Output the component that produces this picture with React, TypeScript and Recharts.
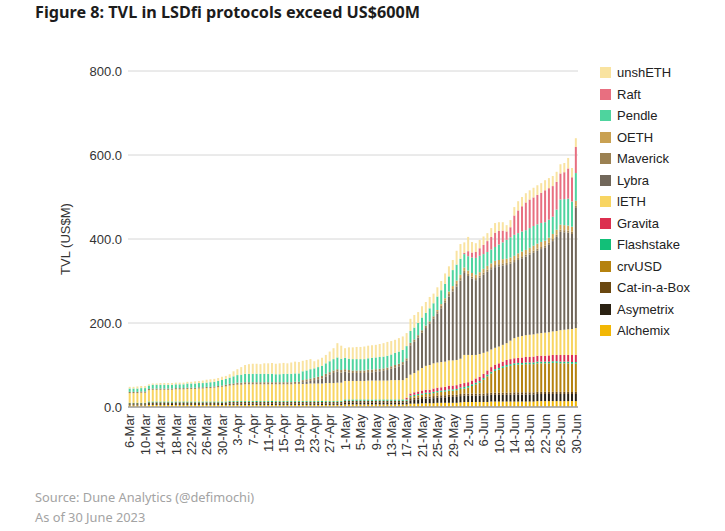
import React from 'react';
import { BarChart, Bar, XAxis, YAxis, CartesianGrid } from 'recharts';

// Daily TVL (US$M) by protocol, 6-Mar to 30-Jun 2023.
// Each array: Mar 6-31 | Apr | May 1-17 | May 18-31 | Jun
const MONTHS: [string, number, number][] = [
  ['Mar', 6, 31],
  ['Apr', 1, 30],
  ['May', 1, 31],
  ['Jun', 1, 30],
];

const dates: string[] = [];
MONTHS.forEach(([m, from, to]) => {
  for (let d = from; d <= to; d++) dates.push(`${d}-${m}`);
});

const alchemix = [
  4, 4, 4, 4, 4, 5, 5, 5, 5, 5, 5, 5, 5, 5, 5, 5, 5, 5, 5, 5, 5, 5, 5, 5, 5, 5,
  5, 5, 5, 5, 5, 5, 5, 5, 5, 5, 5, 5, 5, 5, 5, 5, 5, 5, 5, 5, 5, 5, 5, 5, 5, 5, 5, 5, 5, 5,
  6, 6, 6, 6, 6, 6, 6, 6, 6, 6, 6, 6, 6, 6, 6, 6, 6,
  8, 8, 8, 9, 9, 9, 9, 10, 10, 10, 10, 10, 10, 11,
  12, 12, 12, 12, 12, 12, 12, 13, 13, 13, 13, 13, 13, 13, 13, 13, 13, 13, 13, 14, 14, 14, 14, 14, 14, 14, 14, 14, 14, 14,
];
const asymetrix = [
  2, 2, 2, 2, 2, 2, 2, 2, 2, 2, 2, 2, 2, 2, 2, 2, 2, 2, 2, 2, 2, 2, 2, 2, 2, 2,
  3, 3, 3, 3, 3, 3, 3, 3, 3, 3, 3, 3, 3, 3, 3, 3, 3, 3, 3, 3, 3, 3, 3, 3, 3, 3, 3, 3, 3, 3,
  4, 4, 4, 4, 4, 4, 4, 4, 4, 4, 4, 4, 4, 4, 4, 4, 4,
  8, 9, 10, 10, 11, 11, 12, 12, 13, 13, 14, 14, 14, 15,
  15, 15, 15, 15, 15, 15, 16, 16, 16, 16, 16, 16, 16, 17, 17, 17, 17, 17, 17, 17, 17, 17, 17, 17, 17, 17, 17, 17, 17, 17,
];
const catInABox = [
  3, 3, 3, 3, 3, 4, 4, 4, 4, 4, 4, 4, 4, 4, 4, 4, 4, 4, 4, 4, 4, 4, 4, 4, 4, 4,
  4, 4, 4, 4, 4, 4, 4, 4, 4, 4, 4, 4, 4, 4, 4, 4, 4, 4, 4, 4, 4, 4, 4, 4, 4, 4, 4, 4, 4, 4,
  5, 5, 5, 5, 5, 5, 5, 5, 5, 5, 5, 5, 5, 5, 5, 5, 5,
  5, 5, 5, 5, 5, 5, 5, 5, 5, 5, 5, 5, 5, 5,
  5, 5, 5, 5, 5, 5, 5, 5, 5, 5, 5, 5, 5, 5, 5, 5, 5, 5, 5, 5, 5, 5, 5, 5, 5, 5, 5, 5, 5, 5,
];
const crvUSD = [
  0, 0, 0, 0, 0, 0, 0, 0, 0, 0, 0, 0, 0, 0, 0, 0, 0, 0, 0, 0, 0, 0, 0, 0, 0, 0,
  0, 0, 0, 0, 0, 0, 0, 0, 0, 0, 0, 0, 0, 0, 0, 0, 0, 0, 0, 0, 0, 0, 0, 0, 0, 0, 0, 0, 0, 0,
  0, 0, 0, 0, 0, 0, 0, 0, 0, 0, 0, 0, 0, 0, 0, 0, 0,
  3, 4, 5, 5, 6, 6, 7, 8, 8, 9, 10, 10, 11, 12,
  12, 14, 18, 22, 26, 33, 40, 46, 52, 55, 59, 62, 64, 65, 66, 66, 67, 67, 67, 68, 68, 68, 68, 69, 69, 68, 68, 68, 67, 67,
];
const flashstake = [
  1, 1, 1, 1, 1, 2, 2, 2, 2, 2, 2, 2, 2, 2, 2, 2, 2, 2, 2, 2, 2, 2, 2, 2, 2, 2,
  2, 2, 2, 2, 2, 2, 2, 2, 2, 2, 2, 2, 2, 2, 2, 2, 2, 2, 2, 2, 2, 2, 2, 2, 2, 2, 2, 2, 2, 2,
  3, 3, 3, 3, 3, 3, 3, 3, 3, 3, 3, 3, 3, 3, 3, 3, 3,
  3, 3, 3, 3, 3, 3, 3, 3, 3, 3, 3, 3, 3, 3,
  4, 4, 4, 4, 4, 4, 4, 4, 4, 4, 4, 4, 4, 4, 4, 4, 4, 4, 4, 4, 4, 4, 4, 4, 4, 4, 4, 4, 4, 4,
];
const gravita = [
  0, 0, 0, 0, 0, 0, 0, 0, 0, 0, 0, 0, 0, 0, 0, 0, 0, 0, 0, 0, 0, 0, 0, 0, 0, 0,
  0, 0, 0, 0, 0, 0, 0, 0, 0, 0, 0, 0, 0, 0, 0, 0, 0, 0, 0, 0, 0, 0, 0, 0, 0, 0, 0, 0, 0, 0,
  0, 0, 0, 0, 0, 0, 0, 0, 0, 0, 0, 0, 0, 0, 0, 0, 4,
  5, 6, 6, 7, 7, 7, 8, 8, 8, 8, 9, 9, 9, 9,
  9, 9, 9, 10, 10, 10, 10, 11, 11, 11, 11, 12, 12, 12, 12, 13, 13, 13, 14, 14, 14, 14, 15, 15, 15, 16, 16, 16, 17, 17,
];
const lETH = [
  23, 23, 23, 24, 24, 27, 28, 28, 28, 28, 28, 28, 29, 29, 29, 30, 30, 30, 31, 31, 32, 32, 33, 34, 35, 36,
  37, 38, 39, 39, 40, 40, 40, 40, 40, 40, 40, 40, 40, 40, 40, 40, 40, 41, 41, 41, 41, 42, 42, 42, 42, 43, 43, 43, 44, 44,
  44, 44, 44, 44, 44, 44, 45, 45, 45, 45, 45, 45, 46, 46, 46, 46, 47,
  45, 46, 50, 54, 57, 59, 60, 60, 60, 60, 60, 60, 60, 60,
  67, 65, 61, 56, 54, 50, 45, 42, 40, 40, 40, 40, 44, 48, 50, 51, 52, 53, 53, 53, 54, 55, 55, 56, 57, 59, 60, 61, 62, 64,
];
const lybra = [
  0, 0, 0, 0, 0, 0, 0, 0, 0, 0, 0, 0, 0, 0, 0, 0, 0, 0, 0, 0, 0, 0, 0, 0, 0, 0,
  0, 0, 0, 0, 0, 0, 0, 0, 0, 0, 0, 0, 0, 0, 0, 0, 0, 0, 0, 4, 5, 6, 8, 10, 12, 16, 20, 24, 26, 24,
  22, 20, 19, 19, 19, 19, 20, 20, 21, 22, 23, 25, 27, 30, 33, 37, 41,
  70, 74, 78, 84, 90, 98, 106, 116, 128, 140, 152, 164, 175, 186,
  195, 188, 182, 178, 182, 186, 190, 191, 192, 191, 189, 186, 183, 181, 183, 185, 187, 191, 194, 197, 200, 202, 208, 215, 224, 234, 232, 230, 226, 286,
];
const maverick = [
  3, 3, 3, 3, 3, 3, 3, 3, 3, 3, 3, 3, 3, 3, 3, 3, 3, 3, 3, 3, 3, 3, 3, 3, 3, 4,
  4, 4, 5, 5, 5, 5, 5, 5, 5, 5, 5, 5, 5, 5, 5, 5, 5, 5, 5, 5, 6, 6, 6, 6, 6, 6, 6, 6, 6, 6,
  6, 6, 6, 6, 6, 6, 6, 6, 6, 6, 6, 6, 6, 6, 6, 6, 6,
  6, 6, 6, 6, 6, 6, 6, 6, 6, 6, 6, 6, 6, 6,
  5, 5, 5, 5, 5, 5, 5, 5, 5, 5, 5, 5, 5, 5, 5, 5, 5, 5, 5, 5, 5, 5, 5, 5, 5, 5, 5, 5, 5, 5,
];
const oeth = [
  0, 0, 0, 0, 0, 0, 0, 0, 0, 0, 0, 0, 0, 0, 0, 0, 0, 0, 0, 0, 0, 0, 0, 0, 0, 0,
  0, 0, 0, 0, 0, 0, 0, 0, 0, 0, 0, 0, 0, 0, 0, 0, 0, 0, 0, 0, 0, 0, 0, 0, 0, 0, 0, 0, 0, 0,
  0, 0, 0, 0, 0, 0, 0, 0, 0, 0, 0, 0, 0, 0, 0, 0, 0,
  0, 0, 0, 0, 0, 0, 0, 3, 4, 5, 6, 7, 8, 8,
  8, 8, 8, 8, 8, 9, 9, 9, 10, 10, 10, 10, 10, 10, 11, 11, 11, 11, 12, 12, 12, 12, 12, 12, 12, 12, 12, 12, 12, 12,
];
const pendle = [
  8, 8, 8, 8, 8, 8, 9, 9, 9, 9, 9, 9, 9, 9, 9, 10, 10, 10, 10, 10, 10, 11, 11, 12, 13, 14,
  15, 17, 18, 19, 20, 20, 20, 20, 20, 20, 20, 20, 19, 19, 20, 20, 20, 20, 20, 21, 21, 22, 22, 23, 24, 25, 26, 27, 28, 27,
  27, 27, 27, 27, 27, 27, 27, 28, 28, 28, 28, 28, 28, 29, 29, 29, 29,
  28, 28, 29, 30, 30, 31, 31, 32, 33, 34, 36, 38, 38, 38,
  32, 34, 37, 40, 39, 35, 33, 33, 33, 37, 40, 45, 48, 50, 48, 48, 47, 47, 47, 46, 45, 44, 43, 41, 48, 60, 62, 64, 60, 66,
];
const raft = [
  0, 0, 0, 0, 0, 0, 0, 0, 0, 0, 0, 0, 0, 0, 0, 0, 0, 0, 0, 0, 0, 0, 0, 0, 0, 0,
  0, 0, 0, 0, 0, 0, 0, 0, 0, 0, 0, 0, 0, 0, 0, 0, 0, 0, 0, 0, 0, 0, 0, 0, 0, 0, 0, 0, 0, 0,
  0, 0, 0, 0, 0, 0, 0, 0, 0, 0, 0, 0, 0, 0, 0, 0, 0,
  0, 0, 0, 0, 0, 0, 0, 0, 0, 0, 0, 0, 0, 0,
  3, 12, 12, 14, 18, 22, 26, 30, 34, 32, 28, 20, 24, 46, 54, 60, 66, 68, 68, 70, 72, 76, 75, 73, 66, 62, 64, 72, 58, 62,
];
const unshETH = [
  4, 4, 5, 5, 5, 3, 3, 3, 4, 4, 4, 4, 4, 4, 4, 4, 4, 5, 5, 6, 7, 7, 7, 7, 8, 7,
  8, 12, 14, 18, 21, 23, 24, 24, 23, 25, 25, 26, 25, 26, 26, 25, 27, 28, 27, 25, 25, 24, 17, 18, 19, 20, 23, 26, 34, 31,
  23, 27, 28, 29, 29, 30, 30, 30, 30, 31, 32, 33, 32, 31, 32, 32, 31,
  29, 30, 26, 27, 26, 27, 23, 22, 22, 25, 24, 24, 33, 35,
  25, 34, 25, 21, 20, 20, 19, 21, 23, 21, 20, 15, 17, 20, 22, 22, 22, 22, 23, 23, 23, 24, 24, 24, 24, 22, 22, 25, 22, 21,
];

// stacked bottom -> top
const SERIES = [
  { key: 'Alchemix', values: alchemix, color: '#f2b705' },
  { key: 'Asymetrix', values: asymetrix, color: '#2a2112' },
  { key: 'Cat-in-a-Box', values: catInABox, color: '#6a4710' },
  { key: 'crvUSD', values: crvUSD, color: '#b5820f' },
  { key: 'Flashstake', values: flashstake, color: '#12bf78' },
  { key: 'Gravita', values: gravita, color: '#dc2f4f' },
  { key: 'lETH', values: lETH, color: '#f8d562' },
  { key: 'Lybra', values: lybra, color: '#71675a' },
  { key: 'Maverick', values: maverick, color: '#9b8152' },
  { key: 'OETH', values: oeth, color: '#c9a152' },
  { key: 'Pendle', values: pendle, color: '#4ed49e' },
  { key: 'Raft', values: raft, color: '#e86f80' },
  { key: 'unshETH', values: unshETH, color: '#f9e3a0' },
];

const Y_TICKS = [0, 200, 400, 600, 800];

const DateTick = (props: any) => {
  const { x, y, payload } = props;
  return (
    <g transform={`translate(${x},${y})`}>
      <text x={0} y={0} dy={4.5} textAnchor="end" transform="rotate(-90)" fontSize={13} fill="#333">
        {payload.value}
      </text>
    </g>
  );
};

export default function App() {
  const data = dates.map((d, i) => {
    const row: any = { date: d };
    SERIES.forEach(s => {
      row[s.key] = s.values[i];
    });
    return row;
  });

  const font = '"Liberation Sans", Arial, sans-serif';

  return (
    <div style={{ position: 'fixed', left: 0, top: 0, width: 725, height: 531, background: '#fff', fontFamily: font }}>
      <div style={{ position: 'absolute', left: 35, top: 1, fontFamily: '"Noto Sans", sans-serif', fontWeight: 700, fontSize: 16.2, color: '#1c1c1c', whiteSpace: 'nowrap' }}>
        Figure 8: TVL in LSDfi protocols exceed US$600M
      </div>

      <div style={{ position: 'absolute', left: 0, top: 0 }}>
        <BarChart width={725} height={531} data={data} margin={{ top: 71, right: 147, bottom: 0, left: 8 }} barCategoryGap="18%">
          <CartesianGrid vertical={false} stroke="#d6d6d6" />
          <XAxis
            dataKey="date"
            interval={3}
            height={124}
            tickLine={false}
            tickSize={0}
            tickMargin={7}
            axisLine={{ stroke: '#a0a0a0', strokeWidth: 1.5 }}
            tick={<DateTick />}
          />
          <YAxis
            width={120}
            domain={[0, 800]}
            ticks={Y_TICKS}
            tickFormatter={(v: number) => v.toFixed(1)}
            tickLine={false}
            axisLine={false}
            tickSize={0}
            tickMargin={6}
            tick={{ fontSize: 13, fill: '#333', fontFamily: font }}
            label={{ value: 'TVL (US$M)', angle: -90, position: 'insideLeft', offset: 57, style: { textAnchor: 'middle', fontSize: 13, fill: '#333', fontFamily: font } }}
          />
          {SERIES.map(s => (
            <Bar key={s.key} dataKey={s.key} stackId="tvl" fill={s.color} isAnimationActive={false} />
          ))}
        </BarChart>
      </div>

      <div style={{ position: 'absolute', left: 600, top: 62 }}>
        {[...SERIES].reverse().map(s => (
          <div key={s.key} style={{ display: 'flex', alignItems: 'center', height: 21.5, fontSize: 13, color: '#222' }}>
            <span style={{ display: 'inline-block', width: 11, height: 11, background: s.color, marginRight: 6 }} />
            {s.key}
          </div>
        ))}
      </div>

      <div style={{ position: 'absolute', left: 35, top: 487, fontFamily: '"Noto Sans", sans-serif', fontSize: 12.8, color: '#a3a3a3', lineHeight: '20px' }}>
        <div>Source: Dune Analytics (@defimochi)</div>
        <div>As of 30 June 2023</div>
      </div>
    </div>
  );
}
